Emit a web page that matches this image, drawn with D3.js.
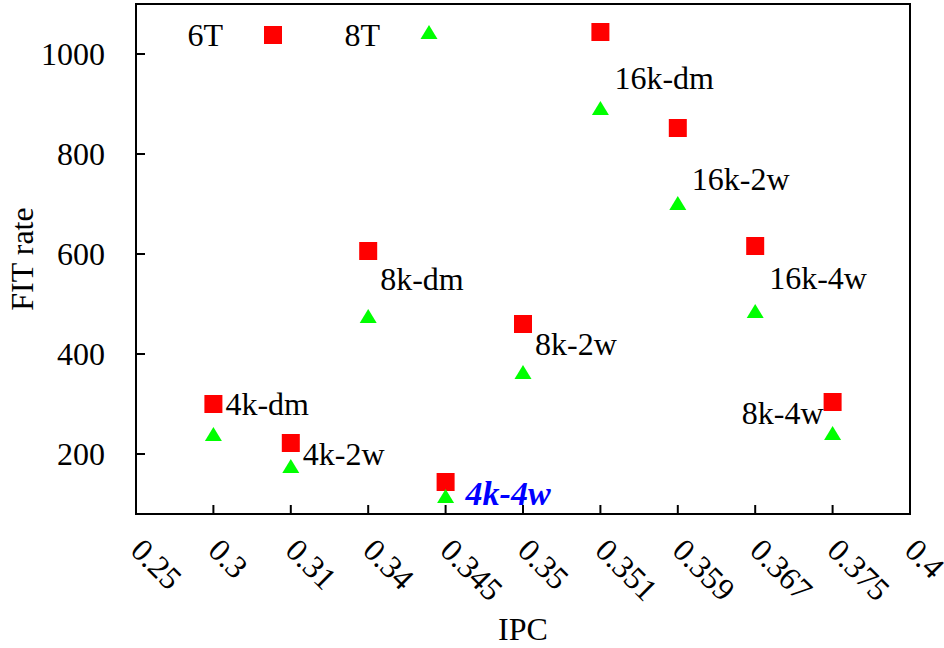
<!DOCTYPE html>
<html>
<head>
<meta charset="utf-8">
<script src="https://cdn.jsdelivr.net/npm/d3@7"></script>
<style>
  body { margin: 0; background: #fff; }
  text { font-family: "Liberation Serif", "Times New Roman", serif; }
</style>
</head>
<body>
<script>
// x categories (IPC), evenly spaced like the original
const ipcTicks = ["0.25", "0.3", "0.31", "0.34", "0.345", "0.35", "0.351", "0.359", "0.367", "0.375", "0.4"];
const pointIpc = ["0.3", "0.31", "0.34", "0.345", "0.35", "0.351", "0.359", "0.367", "0.375"];
const fit6T = [300, 222, 606, 144, 460, 1044, 852, 616, 304];
const fit8T = [240, 176, 476, 116, 364, 892, 702, 486, 242];
const yTicks = [200, 400, 600, 800, 1000];

// config labels, placed at an IPC category and a FIT value
const cfgNames = ["4k-dm", "4k-2w", "4k-4w", "8k-dm", "8k-2w", "16k-dm", "16k-2w", "16k-4w", "8k-4w"];
const cfgIpc   = ["0.3", "0.31", "0.345", "0.34", "0.35", "0.351", "0.359", "0.367", "0.375"];
const cfgFit   = [278, 178, 98, 528, 398, 930, 728, 530, 260];

const width = 944, height = 648;
const margin = {top: 4, right: 34, bottom: 134, left: 136};

const svg = d3.select("body").append("svg")
    .attr("width", width)
    .attr("height", height);

const x = d3.scalePoint()
    .domain(ipcTicks)
    .range([margin.left, width - margin.right]);

const y = d3.scaleLinear()
    .domain([80, 1100])
    .range([height - margin.bottom, margin.top]);

// frame
svg.append("rect")
    .attr("x", margin.left)
    .attr("y", margin.top)
    .attr("width", width - margin.right - margin.left)
    .attr("height", height - margin.bottom - margin.top)
    .attr("fill", "none")
    .attr("stroke", "#000")
    .attr("stroke-width", 2);

// bottom ticks (inward) and rotated labels
const xAxis = svg.append("g");
xAxis.selectAll("line")
    .data(ipcTicks.slice(1, -1))
    .enter().append("line")
    .attr("x1", d => x(d)).attr("x2", d => x(d))
    .attr("y1", y(80)).attr("y2", y(80) - 9)
    .attr("stroke", "#000").attr("stroke-width", 2);
xAxis.selectAll("text")
    .data(ipcTicks)
    .enter().append("text")
    .attr("transform", d => `translate(${x(d) - 7},${y(80) + 38}) rotate(45)`)
    .attr("font-size", 32)
    .text(d => d);

// left ticks (inward) and labels
const yAxis = svg.append("g");
yAxis.selectAll("line")
    .data(yTicks)
    .enter().append("line")
    .attr("x1", margin.left).attr("x2", margin.left + 9)
    .attr("y1", d => y(d)).attr("y2", d => y(d))
    .attr("stroke", "#000").attr("stroke-width", 2);
yAxis.selectAll("text")
    .data(yTicks)
    .enter().append("text")
    .attr("x", margin.left - 31)
    .attr("y", d => y(d))
    .attr("dy", "0.35em")
    .attr("text-anchor", "end")
    .attr("font-size", 32)
    .text(d => d);

// axis titles
svg.append("text")
    .attr("x", (x("0.25") + x("0.4")) / 2)
    .attr("y", 640)
    .attr("text-anchor", "middle")
    .attr("font-size", 32)
    .text("IPC");

svg.append("text")
    .attr("transform", `translate(33,${(y(80) + y(1100)) / 2}) rotate(-90)`)
    .attr("text-anchor", "middle")
    .attr("font-size", 32)
    .text("FIT rate");

const sq = 18;
const triangle = (cx, cy) => `M${cx - 8.5},${cy + 7}L${cx + 8.5},${cy + 7}L${cx},${cy - 7}Z`;

// 6T squares
svg.append("g").selectAll("rect")
    .data(fit6T)
    .enter().append("rect")
    .attr("x", (d, i) => x(pointIpc[i]) - sq / 2)
    .attr("y", d => y(d) - sq / 2)
    .attr("width", sq).attr("height", sq)
    .attr("fill", "#ff0000");

// 8T triangles
svg.append("g").selectAll("path")
    .data(fit8T)
    .enter().append("path")
    .attr("d", (d, i) => triangle(x(pointIpc[i]), y(d)))
    .attr("fill", "#00ff00");

// config labels
svg.append("g").selectAll("text")
    .data(cfgNames)
    .enter().append("text")
    .attr("x", (d, i) => {
        if (d === "8k-4w") return x(cfgIpc[i]) - 9;
        if (d === "4k-4w") return x(cfgIpc[i]) + 20;
        return x(cfgIpc[i]) + (i >= 5 ? 14 : 12);
    })
    .attr("y", (d, i) => y(cfgFit[i]))
    .attr("text-anchor", d => d === "8k-4w" ? "end" : "start")
    .attr("font-size", d => d === "4k-4w" ? 34 : 32)
    .attr("font-weight", d => d === "4k-4w" ? "bold" : null)
    .attr("font-style", d => d === "4k-4w" ? "italic" : null)
    .attr("fill", d => d === "4k-4w" ? "#0000ff" : "#000")
    .text(d => d);

// key
const key = svg.append("g");
key.append("text").attr("x", 223).attr("y", 46)
    .attr("text-anchor", "end").attr("font-size", 32).text("6T");
key.append("rect").attr("x", 273 - sq / 2).attr("y", 35 - sq / 2)
    .attr("width", sq).attr("height", sq).attr("fill", "#ff0000");
key.append("text").attr("x", 380).attr("y", 46)
    .attr("text-anchor", "end").attr("font-size", 32).text("8T");
key.append("path").attr("d", triangle(429, 32)).attr("fill", "#00ff00");
</script>
</body>
</html>
